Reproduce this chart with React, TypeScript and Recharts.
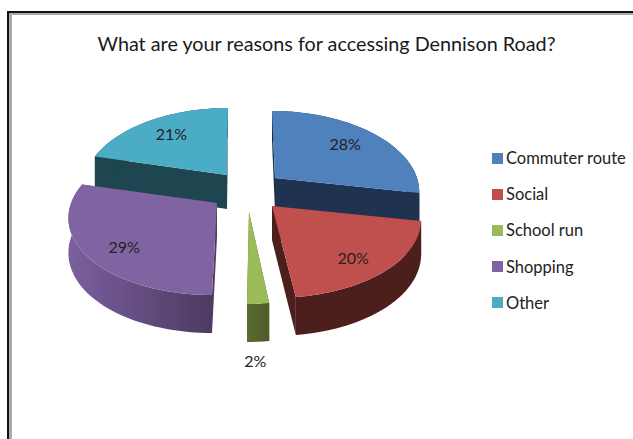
import React from "react";
import { PieChart, Pie, Legend } from "recharts";

const categories = ["Commuter route", "Social", "School run", "Shopping", "Other"];
const shares = [28, 20, 2, 29, 21];
const colors = ["#4f81bd", "#c0504d", "#9bbb59", "#8064a2", "#4bacc6"];

// paint order: back slices first so the front ones cover their walls
const paintOrder = [4, 0, 1, 2, 3];

// how far each slice is pulled out of the pie, in legend order
const explodeX = [30, 27, 4, -28, -18];
const explodeY = [-14, 14, 20, 11, -17];
// sideways lean of each slice from the camera angle
const lean = [3, 2, -2, -5, -1];

const wallColors = ["#1f3350", "#4d1f1c", "url(#wallGreen)", "url(#wallPurple)", "#1e4650"];

const pieData = paintOrder.map((i) => ({
  name: categories[i],
  value: shares[i],
  fill: colors[i],
  index: i,
}));

// clockwise angle of the first painted slice, measured from 12 o'clock
const firstAngle = shares.slice(0, 4).reduce((a, b) => a + b, 0) * 3.6;

const TILT = 0.546;
const PERSPECTIVE = 0.157;
const DEPTH = 34;
const DEPTH_GROW = 4;

// recharts angle (degrees, counter-clockwise from 3 o'clock) to a point on the tilted disc
const project = (angle: number, r: number, radius: number, idx: number) => {
  const rad = (angle * Math.PI) / 180;
  const u = Math.cos(rad) * r;
  const d = -Math.sin(rad) * r;
  const w = 1 - PERSPECTIVE * d;
  // slices pulled towards the viewer read a little wider
  const widen = 1 + Math.max(0, explodeY[idx]) / 400;
  return {
    x: (radius * u * widen) / w + lean[idx] * d,
    y: (radius * TILT * d) / w,
    depth: DEPTH + DEPTH_GROW * d,
  };
};

type Pt = { x: number; y: number };
const toPath = (pts: Pt[]) =>
  pts.map((p, i) => `${i ? "L" : "M"}${p.x.toFixed(1)} ${p.y.toFixed(1)}`).join(" ") + " Z";

const Slice3D = (props: any) => {
  const { cx, cy, outerRadius, startAngle, endAngle, fill, payload } = props;
  const idx = payload.index;
  const ox = cx + explodeX[idx];
  const oy = cy + explodeY[idx];

  const arc: { x: number; y: number; depth: number }[] = [];
  const steps = Math.max(2, Math.ceil(Math.abs(endAngle - startAngle) / 2));
  for (let s = 0; s <= steps; s++) {
    const a = startAngle + ((endAngle - startAngle) * s) / steps;
    const p = project(a, 1, outerRadius, idx);
    arc.push({ x: ox + p.x, y: oy + p.y, depth: p.depth });
  }
  const apex = { x: ox, y: oy, depth: DEPTH };
  const drop = (p: { x: number; y: number; depth: number }) => ({ x: p.x, y: p.y + p.depth });

  const first = arc[0];
  const last = arc[arc.length - 1];
  const wall = wallColors[idx];

  return (
    <g>
      <path d={toPath([apex, first, drop(first), drop(apex)])} fill={wall} />
      <path d={toPath([apex, last, drop(last), drop(apex)])} fill={wall} />
      <path d={toPath([...arc, ...arc.map(drop).reverse()])} fill={wall} />
      <path d={toPath([apex, ...arc])} fill={fill} />
    </g>
  );
};

const sliceLabel = (props: any) => {
  const { cx, cy, outerRadius, midAngle, payload, value } = props;
  const idx = payload.index;
  const front = explodeY[idx] > 0;
  const inner = project(midAngle, front ? 0.73 : 0.7, outerRadius, idx);
  const rim = project(midAngle, 1, outerRadius, idx);
  // thin slices get their label under the wall instead of on top
  const dy = value < 5 ? rim.y + rim.depth + 19 : inner.y + (front ? 6 : -2);
  return (
    <text
      x={cx + explodeX[idx] + inner.x}
      y={cy + explodeY[idx] + dy}
      textAnchor="middle"
      dominantBaseline="central"
      fontFamily="Lato"
      fontSize={16}
      fill="#222"
    >
      {value}%
    </text>
  );
};

const LegendList = () => (
  <div style={{ fontFamily: "Lato", fontSize: 16.5, color: "#222" }}>
    {categories.map((name, i) => (
      <div key={name} style={{ display: "flex", alignItems: "center", height: 36.2 }}>
        <span style={{ width: 11, height: 11, background: colors[i], marginRight: 3 }} />
        {name}
      </div>
    ))}
  </div>
);

export default function App() {
  return (
    <div style={{ position: "absolute", left: 0, top: 0, width: 633, height: 439, background: "#fff", overflow: "hidden" }}>
      <div
        style={{
          position: "absolute",
          left: 7,
          top: 11,
          width: 640,
          height: 440,
          boxSizing: "border-box",
          borderLeft: "2px solid #111",
          borderTop: "2px solid #111",
        }}
      >
        <div style={{ height: "100%", boxSizing: "border-box", borderLeft: "3px solid #aaa", borderTop: "2px solid #aaa" }} />
      </div>
      <div
        style={{
          position: "absolute",
          left: 0,
          top: 31,
          width: 653,
          textAlign: "center",
          fontFamily: "Lato",
          fontSize: 19.8,
          color: "#1a1a1a",
        }}
      >
        What are your reasons for accessing Dennison Road?
      </div>
      <PieChart
        width={633}
        height={439}
        margin={{ top: 0, right: 0, bottom: 0, left: 0 }}
        style={{ position: "absolute", left: 0, top: 0 }}
      >
        <defs>
          <linearGradient id="wallPurple" gradientUnits="userSpaceOnUse" x1="68" y1="0" x2="212" y2="0">
            <stop offset="0%" stopColor="#7b5f9f" />
            <stop offset="100%" stopColor="#4e3a62" />
          </linearGradient>
          <linearGradient id="wallGreen" gradientUnits="userSpaceOnUse" x1="247" y1="0" x2="268" y2="0">
            <stop offset="0%" stopColor="#596a30" />
            <stop offset="100%" stopColor="#4e5c2a" />
          </linearGradient>
        </defs>
        <Pie
          data={pieData}
          dataKey="value"
          nameKey="name"
          cx={245}
          cy={192}
          outerRadius={142}
          startAngle={90 - firstAngle}
          endAngle={90 - firstAngle - 360}
          paddingAngle={0}
          stroke="none"
          shape={Slice3D}
          label={sliceLabel}
          labelLine={false}
          isAnimationActive={false}
        />
        <Legend
          layout="vertical"
          align="right"
          verticalAlign="top"
          content={<LegendList />}
          wrapperStyle={{ left: 492, top: 140, width: 141 }}
        />
      </PieChart>
    </div>
  );
}
